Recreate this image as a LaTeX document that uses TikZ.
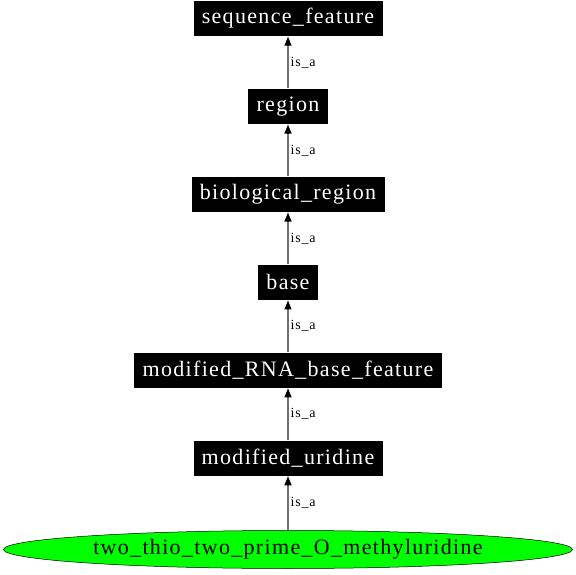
\documentclass[tikz,border=0pt]{standalone}
\usepackage{fontspec}
\setmainfont[LetterSpace=6]{Liberation Serif}
\usetikzlibrary{arrows.meta,positioning,shapes.geometric}
\tikzset{
  term/.style     = {rectangle, fill=black, draw=white, line width=0.4pt,
                     text=white, font=\fontsize{22pt}{24pt}\selectfont,
                     minimum height=36pt, inner xsep=9pt, inner ysep=0pt},
  leaf/.style     = {ellipse, fill=green, draw=black, line width=0.5pt,
                     font=\fontsize{22pt}{24pt}\selectfont,
                     minimum height=38pt, minimum width=569pt, inner sep=0pt},
  isa/.style      = {-{Triangle[length=9pt,width=7pt,color=black]}, draw=black!55,
                     line width=1.2pt},
  isalabel/.style = {font=\fontsize{14pt}{16pt}\selectfont, right, inner sep=2pt},
}
\begin{document}
\begin{tikzpicture}[x=1pt,y=1pt,node distance=51.5pt]
  \useasboundingbox (0,0) rectangle (576,574);

  % ---- ontology chain ----------------------------------------------------
  \node[leaf] (twothio) at (288,24.5) {two\_thio\_two\_prime\_O\_methyluridine};
  \node[term, above=54pt of twothio.north] (moduri) {modified\_uridine};
  \node[term, above=of moduri]  (modrna) {modified\_RNA\_base\_feature};
  \node[term, above=of modrna]  (base)   {base};
  \node[term, above=of base]    (bioreg) {biological\_region};
  \node[term, above=of bioreg]  (region) {region};
  \node[term, above=of region]  (seqfeat) {sequence\_feature};

  % ---- is_a edges ----------------------------------------------------------
  \foreach \child/\parent in {twothio/moduri, moduri/modrna, modrna/base,
                              base/bioreg, bioreg/region, region/seqfeat}
    \draw[isa] (\child) -- node[isalabel] {is\_a} (\parent);
\end{tikzpicture}
\end{document}
